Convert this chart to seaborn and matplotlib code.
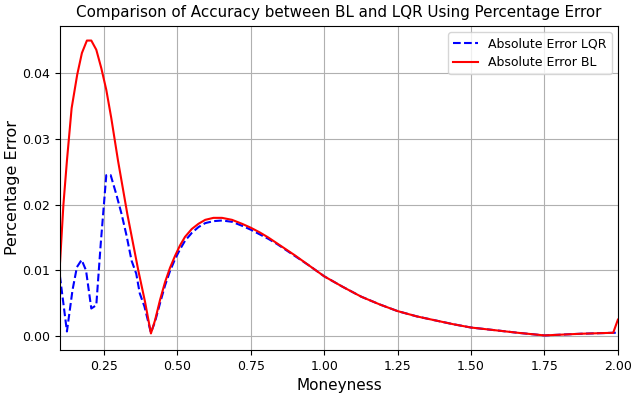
import numpy as np
import pandas as pd
import matplotlib
matplotlib.use("Agg")
import matplotlib.pyplot as plt
import seaborn as sns

# values
moneyness_bl = [0.100, 0.112, 0.124, 0.140, 0.159, 0.175, 0.192, 0.207, 0.224, 0.241,
                0.258, 0.275, 0.298, 0.330, 0.367, 0.390, 0.410, 0.424, 0.441, 0.458,
                0.475, 0.492, 0.509, 0.526, 0.549, 0.572, 0.595, 0.623, 0.652, 0.686,
                0.720, 0.750, 0.780, 0.810, 0.840, 0.870, 0.900, 0.950, 1.000, 1.063,
                1.126, 1.190, 1.250, 1.315, 1.377, 1.440, 1.500, 1.580, 1.659, 1.750,
                1.872, 1.984, 2.000]
error_bl = [0.0108, 0.0200, 0.0267, 0.0347, 0.0398, 0.0431, 0.0450, 0.0450, 0.0436, 0.0408,
            0.0375, 0.0332, 0.0267, 0.0185, 0.0100, 0.0052, 0.0004, 0.0024, 0.0055, 0.0082,
            0.0104, 0.0122, 0.0138, 0.0151, 0.0163, 0.0171, 0.0177, 0.0180, 0.0180, 0.0177,
            0.0171, 0.0165, 0.0158, 0.0150, 0.0141, 0.0132, 0.0123, 0.0107, 0.0091, 0.0075,
            0.0060, 0.0048, 0.0038, 0.0030, 0.0024, 0.0018, 0.0013, 0.0009, 0.0005, 0.0001,
            0.00035, 0.0005, 0.0025]

moneyness_lqr = [0.100, 0.124, 0.143, 0.158, 0.174, 0.189, 0.207, 0.224, 0.239, 0.258,
                 0.273, 0.292, 0.310, 0.327, 0.344, 0.360, 0.372, 0.388, 0.410, 0.424,
                 0.441, 0.458, 0.475, 0.492, 0.509, 0.526, 0.549, 0.572, 0.595, 0.623,
                 0.652, 0.686, 0.720, 0.750, 0.780, 0.810, 0.840, 0.870, 0.900, 0.950,
                 1.000, 1.063, 1.126, 1.190, 1.250, 1.315, 1.377, 1.440, 1.500, 1.580,
                 1.659, 1.750, 1.872, 1.984, 2.000]
error_lqr = [0.0092, 0.0007, 0.0070, 0.0105, 0.0116, 0.0100, 0.0042, 0.0047, 0.0140, 0.0245,
             0.0245, 0.0216, 0.0186, 0.0153, 0.0115, 0.0095, 0.0065, 0.0045, 0.0005, 0.0022,
             0.0050, 0.0077, 0.0099, 0.0117, 0.0132, 0.0145, 0.0157, 0.0166, 0.0172, 0.0175,
             0.0176, 0.0174, 0.0168, 0.0162, 0.0155, 0.0148, 0.0140, 0.0131, 0.0122, 0.0107,
             0.0091, 0.0075, 0.0060, 0.0048, 0.0038, 0.0030, 0.0024, 0.0018, 0.0013, 0.0009,
             0.0005, 0.0001, 0.00035, 0.0005, 0.0005]

df_lqr = pd.DataFrame({'Moneyness': moneyness_lqr, 'Error': error_lqr})
df_bl = pd.DataFrame({'Moneyness': moneyness_bl, 'Error': error_bl})

fig = plt.figure(figsize=(6.37, 3.97), dpi=100)
ax = fig.add_axes([0.094, 0.118, 0.876, 0.817])

sns.lineplot(x='Moneyness', y='Error', data=df_lqr, ax=ax, color='blue',
             linestyle='--', linewidth=1.5, label='Absolute Error LQR')
sns.lineplot(x='Moneyness', y='Error', data=df_bl, ax=ax, color='red',
             linewidth=1.5, label='Absolute Error BL')

ax.set_xlim(0.1, 2.0)
ax.grid(True, color='#b0b0b0', linewidth=0.8)
ax.set_xlabel('Moneyness', fontsize=11)
ax.set_ylabel('Percentage Error', fontsize=11.5, labelpad=1.5)
ax.set_title('Comparison of Accuracy between BL and LQR Using Percentage Error', fontsize=10.9)
ax.tick_params(labelsize=9)
ax.legend(loc='upper right', fontsize=9)

fig.savefig('out.png', dpi=100)
